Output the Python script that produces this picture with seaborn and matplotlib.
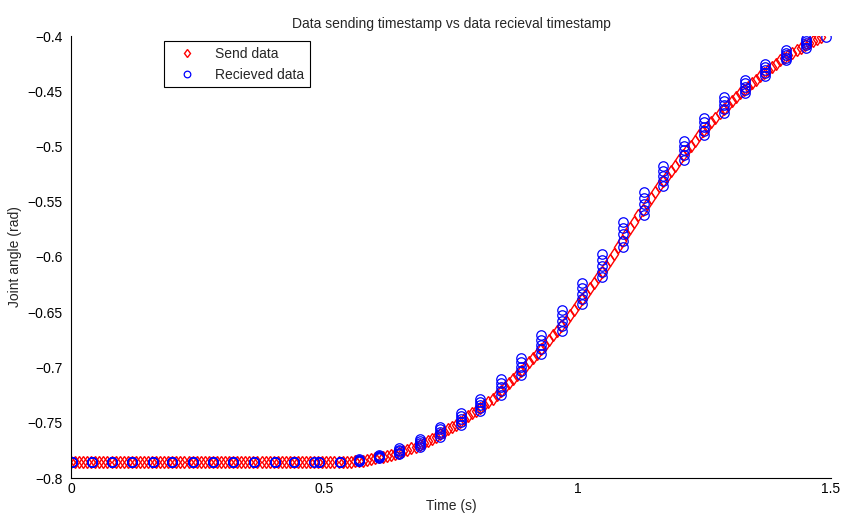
import numpy as np
import matplotlib
matplotlib.use('Agg')
import matplotlib.pyplot as plt
import seaborn as sns

# sent joint angle samples, one every SEND_DT seconds
SEND_DT = 0.008
send_y = [-0.7854] * 65 + [
    -0.7854, -0.7854, -0.7853, -0.7852, -0.7851,
    -0.7849, -0.7846, -0.7842, -0.7838, -0.7831,
    -0.7822, -0.7814, -0.7806, -0.7798, -0.7790,
    -0.7783, -0.7770, -0.7757, -0.7743, -0.7729,
    -0.7719, -0.7701, -0.7683, -0.7665, -0.7647,
    -0.7629, -0.7606, -0.7584, -0.7561, -0.7538,
    -0.7523, -0.7496, -0.7468, -0.7440, -0.7412,
    -0.7390, -0.7363, -0.7336, -0.7310, -0.7283,
    -0.7245, -0.7210, -0.7175, -0.7140, -0.7104,
    -0.7068, -0.7030, -0.6991, -0.6953, -0.6914,
    -0.6878, -0.6835, -0.6792, -0.6749, -0.6706,
    -0.6670, -0.6622, -0.6575, -0.6527, -0.6480,
    -0.6428, -0.6380, -0.6332, -0.6283, -0.6235,
    -0.6185, -0.6132, -0.6078, -0.6025, -0.5971,
    -0.5908, -0.5852, -0.5796, -0.5740, -0.5683,
    -0.5624, -0.5571, -0.5518, -0.5465, -0.5412,
    -0.5357, -0.5312, -0.5266, -0.5221, -0.5176,
    -0.5118, -0.5076, -0.5035, -0.4993, -0.4950,
    -0.4900, -0.4861, -0.4822, -0.4782, -0.4742,
    -0.4700, -0.4663, -0.4627, -0.4590, -0.4552,
    -0.4518, -0.4488, -0.4458, -0.4428, -0.4398,
    -0.4365, -0.4337, -0.4309, -0.4281, -0.4253,
    -0.4220, -0.4197, -0.4173, -0.4150, -0.4127,
    -0.4105, -0.4085, -0.4066, -0.4046, -0.4027,
    -0.4012,
]
send_t = np.arange(len(send_y)) * SEND_DT

# received packets: timestamp and how many samples each packet carried
recv_t = [0.001, 0.041, 0.080, 0.120, 0.161, 0.200, 0.241, 0.280, 0.319, 0.361,
          0.402, 0.441, 0.480, 0.489, 0.530, 0.569, 0.608, 0.648, 0.688, 0.728,
          0.769, 0.808, 0.848, 0.889, 0.928, 0.969, 1.008, 1.048, 1.089, 1.130,
          1.169, 1.210, 1.250, 1.289, 1.330, 1.370, 1.411, 1.450, 1.491]
recv_n = [5] * 12 + [2, 3] + [5] * 24 + [1]

x_ticks = [0, 0.5, 1, 1.5]
x_labels = ['0', '0.5', '1', '1.5']
y_ticks = [-0.8, -0.75, -0.7, -0.65, -0.6, -0.55, -0.5, -0.45, -0.4]
y_labels = ['\u22120.8', '\u22120.75', '\u22120.7', '\u22120.65', '\u22120.6',
            '\u22120.55', '\u22120.5', '\u22120.45', '\u22120.4']

# expand packets into one point per received sample
rx_t = np.repeat(recv_t, recv_n)
rx_y = np.array(send_y)

sns.set_style('white')
plt.rcParams['font.family'] = ['Liberation Sans', 'DejaVu Sans']
plt.rcParams['font.size'] = 10

fig = plt.figure(figsize=(8.45, 5.18), dpi=100)
ax = fig.add_axes([71 / 845, 1 - 478 / 518, 760 / 845, 442 / 518])

sns.lineplot(x=send_t, y=send_y, estimator=None, sort=False, ax=ax,
             linestyle='none', marker='d', markersize=6.5,
             markerfacecolor='none', markeredgecolor='red', markeredgewidth=1.0,
             label='Send data')
sns.lineplot(x=rx_t, y=rx_y, estimator=None, sort=False, ax=ax,
             linestyle='none', marker='o', markersize=6.8,
             markerfacecolor='none', markeredgecolor='blue', markeredgewidth=0.9,
             label='Recieved data')

ax.set_xlim(0, 1.5)
ax.set_ylim(-0.8, -0.4)
ax.set_xticks(x_ticks)
ax.set_xticklabels(x_labels)
ax.set_yticks(y_ticks)
ax.set_yticklabels(y_labels)
ax.tick_params(direction='in', length=5, width=0.8, colors='black', labelsize=10)
ax.tick_params(axis='y', pad=6)
ax.tick_params(axis='x', pad=3)
sns.despine(ax=ax)
for s in ['left', 'bottom']:
    ax.spines[s].set_color('black')
    ax.spines[s].set_linewidth(0.8)

ax.set_xlabel('Time (s)', fontsize=10, labelpad=2)
ax.set_ylabel('Joint angle (rad)', fontsize=10)
ax.set_title('Data sending timestamp vs data recieval timestamp', fontsize=10)

leg = ax.legend(loc='upper left', bbox_to_anchor=(0.122, 0.988), borderaxespad=0,
                fancybox=False, frameon=True, edgecolor='black', framealpha=1,
                fontsize=10, handlelength=2.5, markerscale=0.7)
leg.get_frame().set_linewidth(0.8)

fig.savefig('out.png', dpi=100)
